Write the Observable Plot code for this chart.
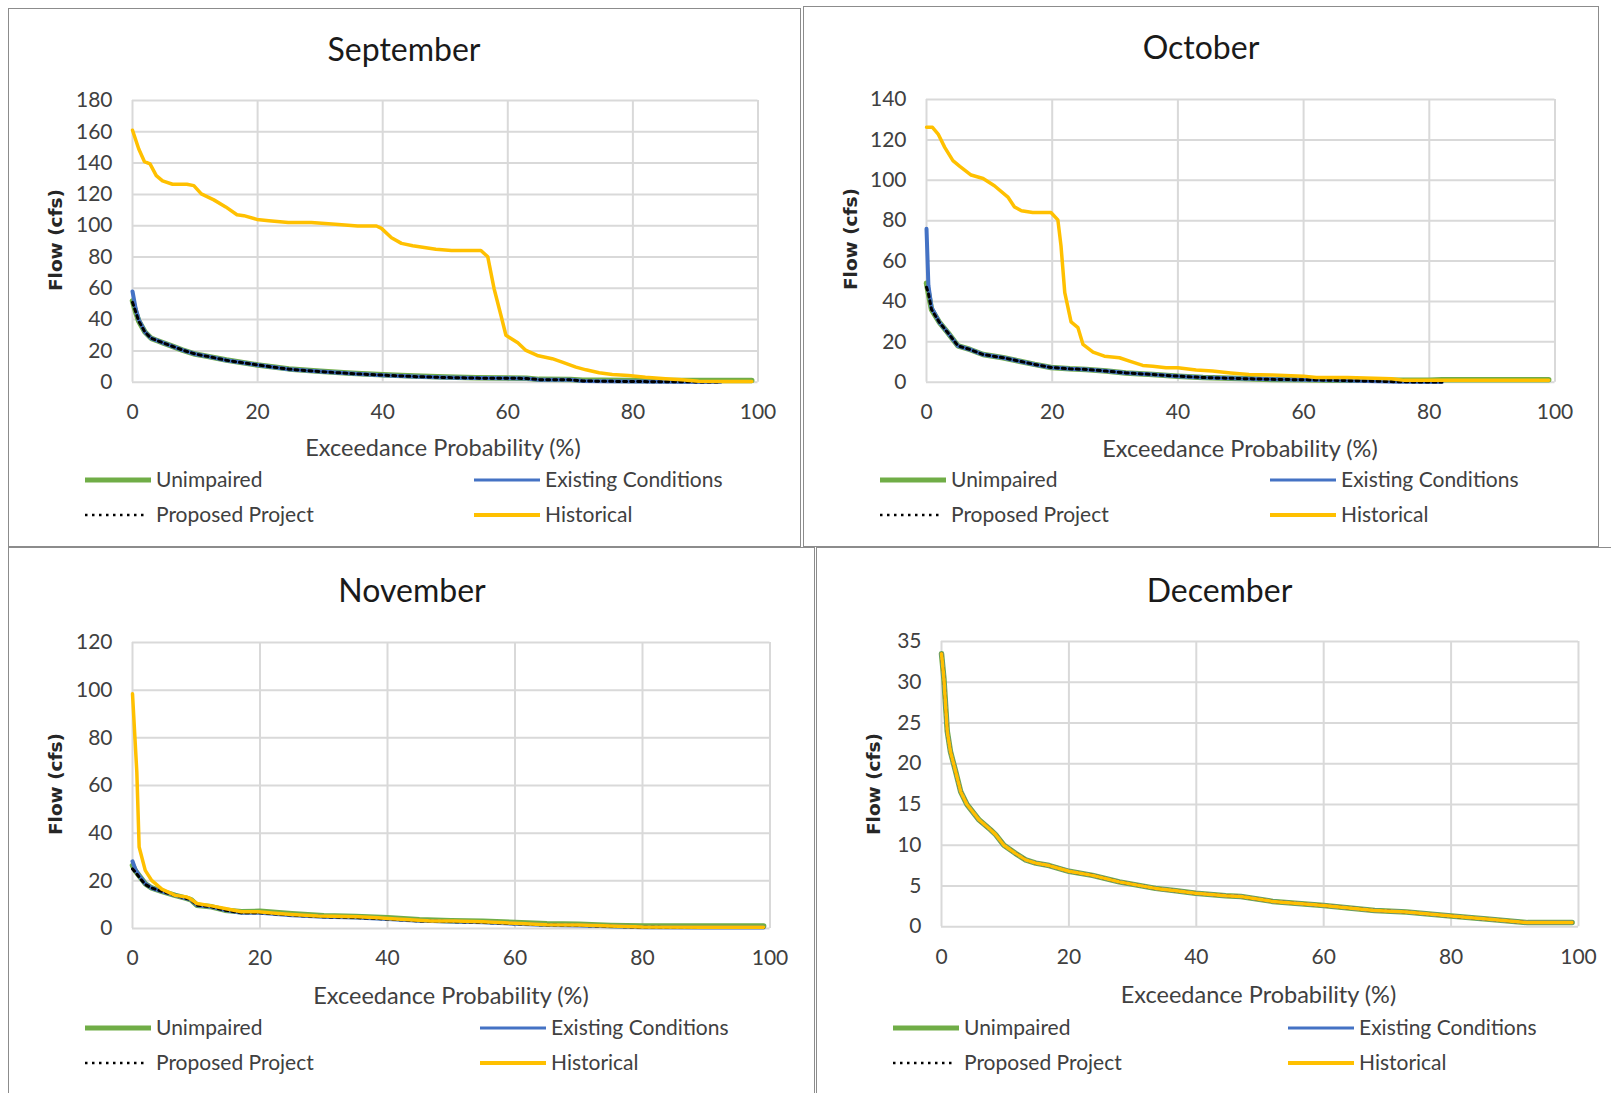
<!DOCTYPE html>
<html><head><meta charset="utf-8">
<script src="https://cdn.jsdelivr.net/npm/d3@7"></script>
<script src="https://cdn.jsdelivr.net/npm/@observablehq/plot@0.6"></script>
<style>
html,body{margin:0;padding:0;background:#fff;}
body{width:1611px;height:1093px;overflow:hidden;position:relative;font-family:Lato,"Open Sans",sans-serif;color:#404040;}
.panel{position:absolute;border:1.5px solid #8c8c8c;box-sizing:border-box;}
.abs{position:absolute;white-space:nowrap;line-height:1;}
.plotbox{position:absolute;}
</style></head><body>
<script>
// ---------- labels ----------
const monthTitles = ["September", "October", "November", "December"];
const legendLabels = ["Unimpaired", "Existing Conditions", "Proposed Project", "Historical"];
const xAxisTitle = "Exceedance Probability (%)";
const yAxisTitle = "Flow (cfs)";
const xTicks = [0, 20, 40, 60, 80, 100];
const sepYTicks = [0, 20, 40, 60, 80, 100, 120, 140, 160, 180];
const octYTicks = [0, 20, 40, 60, 80, 100, 120, 140];
const novYTicks = [0, 20, 40, 60, 80, 100, 120];
const decYTicks = [0, 5, 10, 15, 20, 25, 30, 35];

// ---------- September ----------
const sepHistX = [0, 1, 1.9, 2.8, 3.8, 4.8, 6.4, 8.7, 9.8, 11, 13, 14.9, 16.7, 17.8, 19.9, 21.8, 24.9, 28.6, 32.4, 36, 39, 39.8, 41.4, 43, 44.8, 48.5, 51, 55.7, 56.8, 57.8, 58.9, 59.7, 61.6, 62.9, 64.7, 67.1, 68.7, 70.9, 72.5, 74.6, 76.7, 79.3, 82, 85.2, 87.8, 90.5, 94.2, 99];
const sepHistorical = [161, 149, 141, 139.5, 132, 128.6, 126.5, 126.5, 125.6, 120.3, 116.5, 112, 107, 106.4, 104, 103.2, 102, 102, 101, 99.8, 99.8, 98.3, 92.3, 88.7, 87.2, 85, 84.2, 84.2, 80.1, 59.9, 42.8, 30, 25.2, 20.3, 17.1, 15, 12.8, 9.6, 7.9, 6, 4.9, 4.3, 3.2, 2.2, 1.5, 0.6, 0.5, 0.5];
const sepModelX = [0, 0.5, 1, 2, 3, 4, 5, 6, 8, 10, 12, 15, 20, 25, 30, 35, 40, 45, 50, 55, 60, 63, 65, 70, 72, 75, 80, 85, 90, 94, 99];
const sepUnimpaired = [52, 45, 39, 32, 28, 26.5, 25, 23.5, 20.5, 18, 16.5, 14.2, 11, 8.5, 7, 5.7, 4.8, 4, 3.3, 2.8, 2.6, 2.5, 1.8, 1.7, 1.3, 1.2, 1.1, 1.0, 1.0, 1.0, 1.0];
const sepExisting = [58, 47, 40, 32, 28, 26.5, 25, 23.5, 20.5, 18, 16.5, 14, 11, 8.3, 6.8, 5.5, 4.5, 3.6, 3, 2.6, 2.5, 2.4, 1.6, 1.5, 0.8, 0.6, 0.4, 0.3, 0.2, 0.1, null];
const sepProposed = [51, 45, 39, 32, 28, 26.5, 25, 23.5, 20.5, 18, 16.5, 14, 11, 8.3, 6.8, 5.5, 4.5, 3.6, 3, 2.6, 2.5, 2.4, 1.6, 1.5, 0.8, 0.6, 0.4, 0.3, 0.2, 0.1, null];

// ---------- October ----------
const octHistX = [0, 0.95, 1.85, 2.9, 4.2, 5.3, 7.1, 9, 10.8, 13, 14, 15.1, 16.9, 19.8, 20.9, 21.4, 22, 23, 24.1, 24.9, 26.5, 28.3, 30.7, 32.3, 34.4, 36, 38.1, 40, 42.9, 45.5, 48.4, 51.3, 55, 60, 62, 67, 74, 76, 80, 90, 99];
const octHistorical = [126.2, 126.2, 122.9, 116.3, 109.7, 106.9, 102.6, 100.9, 97.3, 91.5, 86.8, 84.9, 84, 84, 80.4, 67.5, 44.3, 29.9, 27, 18.7, 14.9, 12.9, 12.1, 10.4, 8.3, 7.9, 7.1, 7.1, 6, 5.5, 4.6, 3.8, 3.5, 3, 2.3, 2.3, 1.75, 0.9, 0.9, 0.9, 0.9];
const octModelX = [0, 0.3, 0.8, 2.1, 3.4, 5, 6.9, 9, 12.2, 14.8, 17.2, 19.8, 22.8, 25.4, 28.6, 31.7, 36, 40, 44, 50, 55, 60, 65, 70, 75, 80, 82, 85, 90, 95, 99];
const octUnimpaired = [49, 44, 36, 29.4, 24.5, 18, 16.2, 13.7, 12.1, 10.4, 8.8, 7.3, 6.6, 6.3, 5.5, 4.6, 3.8, 3, 2.3, 1.8, 1.3, 1.2, 1.0, 1.0, 1.0, 1.0, 1.2, 1.2, 1.2, 1.2, 1.2];
const octExisting = [76, 48, 37, 29.4, 24.5, 18, 16.2, 13.7, 12.1, 10.4, 8.8, 7.3, 6.6, 6.3, 5.5, 4.6, 3.8, 3, 2.3, 1.8, 1.4, 1.2, 0.9, 0.6, 0.2, 0.1, 0.1, null, null, null, null];
const octProposed = [47, 44, 36, 29.4, 24.5, 18, 16.2, 13.7, 12.1, 10.4, 8.8, 7.3, 6.6, 6.3, 5.5, 4.6, 3.8, 3, 2.3, 1.8, 1.4, 1.2, 0.9, 0.6, 0.2, 0.1, 0.1, null, null, null, null];

// ---------- November ----------
const novHistX = [0, 0.68, 1.04, 2, 3, 4.6, 6.7, 8.5, 9, 10.1, 12.4, 14.5, 17.1, 19.7, 22.9, 25, 29.1, 35.4, 38.5, 40.1, 46.9, 50.5, 55, 60, 65, 70, 75, 80, 90, 99];
const novHistorical = [98.5, 65.5, 34.2, 24.4, 20.2, 16.5, 13.9, 13.2, 12.6, 10.5, 9.5, 8.4, 7, 7, 6.3, 5.9, 5.2, 4.9, 4.5, 4.2, 3.1, 3.1, 2.8, 2.2, 1.6, 1.5, 1.0, 0.6, 0.5, 0.5];
const novModelX = [0, 0.5, 1.2, 2, 3, 4.6, 6.7, 8.5, 9.2, 10.1, 12.4, 14.5, 17.1, 20, 25, 30, 35, 40, 45, 50, 55, 60, 65, 70, 75, 80, 90, 99];
const novUnimpaired = [26.5, 24, 21.6, 18.8, 17, 15.6, 13.9, 12.6, 12, 9.8, 9.1, 7.7, 7.0, 7.2, 6.2, 5.4, 5.0, 4.5, 3.7, 3.3, 3.0, 2.5, 2.0, 1.8, 1.3, 1.0, 1.0, 1.0];
const novExisting = [28.2, 24.5, 21.6, 18.8, 17, 15.6, 13.9, 12.6, 12, 9.8, 9.1, 7.7, 6.6, 6.6, 5.6, 4.9, 4.6, 4.0, 3.2, 2.9, 2.6, 2.0, 1.5, 1.3, 0.9, 0.5, 0.4, 0.4];
const novProposed = [25, 23.5, 21, 18.5, 17, 15.6, 13.9, 12.6, 12, 9.8, 9.1, 7.7, 6.6, 6.6, 5.6, 4.9, 4.6, 4.0, 3.2, 2.9, 2.6, 2.0, 1.5, 1.3, 0.9, 0.5, 0.4, 0.4];

// ---------- December ----------
const decX = [0, 0.37, 0.9, 1.4, 2.2, 3, 4, 5.9, 7.7, 8.5, 9.8, 11.6, 13.2, 14.8, 16.9, 20, 23.7, 27.9, 33.6, 36.8, 39.9, 44.6, 47, 52, 60, 68, 73, 80, 86, 92, 99];
const decHistorical = [33.5, 30.5, 24, 21.5, 19.1, 16.6, 15, 13.1, 11.9, 11.3, 10, 9, 8.2, 7.8, 7.5, 6.8, 6.3, 5.5, 4.7, 4.4, 4.1, 3.8, 3.7, 3.1, 2.6, 2.0, 1.8, 1.3, 0.9, 0.5, 0.5];
const decUnimpaired = [33.5, 30.5, 24, 21.5, 19.1, 16.6, 15, 13.1, 11.9, 11.3, 10, 9, 8.2, 7.8, 7.5, 6.8, 6.3, 5.5, 4.7, 4.4, 4.1, 3.8, 3.7, 3.1, 2.6, 2.0, 1.8, 1.3, 0.9, 0.5, 0.5];
const decExisting = [33.5, 30.5, 24, 21.5, 19.1, 16.6, 15, 13.1, 11.9, 11.3, 10, 9, 8.2, 7.8, 7.5, 6.8, 6.3, 5.5, 4.7, 4.4, 4.1, 3.8, 3.7, 3.1, 2.6, 2.0, 1.8, 1.3, 0.9, 0.5, 0.5];
const decProposed = [33.5, 30.5, 24, 21.5, 19.1, 16.6, 15, 13.1, 11.9, 11.3, 10, 9, 8.2, 7.8, 7.5, 6.8, 6.3, 5.5, 4.7, 4.4, 4.1, 3.8, 3.7, 3.1, 2.6, 2.0, 1.8, 1.3, 0.9, 0.5, 0.5];

// ---------- styling ----------
const GREEN = "#70ad47", BLUE = "#4472c4", YELLOW = "#ffc000", BLACK = "#000000", GRID = "#d9d9d9";

// ---------- layout (page coordinates) ----------
const panels = [
  {title: monthTitles[0], box: [8, 8, 801, 547], plot: [131.7, 757.2, 100, 381.7], yTicks: sepYTicks,
   hx: sepHistX, hist: sepHistorical, mx: sepModelX, un: sepUnimpaired, ex: sepExisting, pr: sepProposed,
   titleC: [404, 49], xlabC: [443, 448], ylabC: [55.5, 240], leg: [85, 474, 478, 513]},
  {title: monthTitles[1], box: [803, 6, 1599, 547], plot: [926, 1554.5, 98.8, 381.5], yTicks: octYTicks,
   hx: octHistX, hist: octHistorical, mx: octModelX, un: octUnimpaired, ex: octExisting, pr: octProposed,
   titleC: [1201, 47], xlabC: [1240, 449], ylabC: [850.7, 239], leg: [880, 1270, 478, 513]},
  {title: monthTitles[2], box: [8, 547, 815, 1100], plot: [132, 769.5, 642, 928], yTicks: novYTicks,
   hx: novHistX, hist: novHistorical, mx: novModelX, un: novUnimpaired, ex: novExisting, pr: novProposed,
   titleC: [412, 590], xlabC: [451, 995.5], ylabC: [55.5, 784], leg: [85, 480, 1025.5, 1060.5]},
  {title: monthTitles[3], box: [816, 547, 1620, 1100], plot: [941, 1578, 641.3, 926.5], yTicks: decYTicks,
   hx: decX, hist: decHistorical, mx: decX, un: decUnimpaired, ex: decExisting, pr: decProposed,
   titleC: [1219.5, 590], xlabC: [1258.5, 994.5], ylabC: [874, 784], leg: [893, 1288, 1025.5, 1060.5]}
];

function addText(str, x, y, css, anchor) {
  const el = document.createElement("div");
  el.className = "abs";
  el.textContent = str;
  el.style.left = x + "px";
  el.style.top = y + "px";
  el.style.transform = anchor === "left" ? "translate(0,-50%)" : "translate(-50%,-50%)";
  Object.assign(el.style, css);
  document.body.appendChild(el);
  return el;
}

function addSwatch(x, y, w, stroke, sw, dash) {
  const ns = "http://www.w3.org/2000/svg";
  const svg = document.createElementNS(ns, "svg");
  svg.setAttribute("width", w);
  svg.setAttribute("height", 12);
  svg.style.position = "absolute";
  svg.style.left = x + "px";
  svg.style.top = (y - 6) + "px";
  const ln = document.createElementNS(ns, "line");
  ln.setAttribute("x1", 0); ln.setAttribute("x2", w);
  ln.setAttribute("y1", 6); ln.setAttribute("y2", 6);
  ln.setAttribute("stroke", stroke);
  ln.setAttribute("stroke-width", sw);
  if (dash) ln.setAttribute("stroke-dasharray", dash);
  svg.appendChild(ln);
  document.body.appendChild(svg);
}

const mk = (xs, ys) => xs.map((x, i) => ({x, y: ys[i]})).filter(d => d.y != null);

for (const p of panels) {
  const b = document.createElement("div");
  b.className = "panel";
  b.style.left = p.box[0] + "px"; b.style.top = p.box[1] + "px";
  b.style.width = (p.box[2] - p.box[0]) + "px"; b.style.height = (p.box[3] - p.box[1]) + "px";
  document.body.appendChild(b);

  const [x0, x1, yt, yb] = p.plot;
  const ml = 80, mr = 30, mt = 20, mb = 50;
  const ymax = p.yTicks[p.yTicks.length - 1];
  const chart = Plot.plot({
    width: x1 - x0 + ml + mr,
    height: yb - yt + mt + mb,
    marginLeft: ml, marginRight: mr, marginTop: mt, marginBottom: mb,
    x: {domain: [0, 100]},
    y: {domain: [0, ymax]},
    style: {fontFamily: "Lato, sans-serif", fontSize: "21px", color: "#404040", background: "transparent", overflow: "visible"},
    marks: [
      Plot.ruleX(xTicks, {stroke: GRID, strokeWidth: 2}),
      Plot.ruleY(p.yTicks, {stroke: GRID, strokeWidth: 2}),
      Plot.axisX({ticks: xTicks, tickSize: 0, tickPadding: 22, label: null}),
      Plot.axisY({ticks: p.yTicks, tickSize: 0, tickPadding: 20, label: null}),
      Plot.line(mk(p.mx, p.un), {x: "x", y: "y", stroke: GREEN, strokeWidth: 5.5, strokeLinejoin: "round"}),
      Plot.line(mk(p.mx, p.ex), {x: "x", y: "y", stroke: BLUE, strokeWidth: 4, strokeLinejoin: "round"}),
      Plot.line(mk(p.mx, p.pr), {x: "x", y: "y", stroke: BLACK, strokeWidth: 3, strokeDasharray: "3,4"}),
      Plot.line(mk(p.hx, p.hist), {x: "x", y: "y", stroke: YELLOW, strokeWidth: 3.5, strokeLinejoin: "round"})
    ]
  });
  const wrap = document.createElement("div");
  wrap.className = "plotbox";
  wrap.style.left = (x0 - ml) + "px";
  wrap.style.top = (yt - mt) + "px";
  wrap.appendChild(chart);
  document.body.appendChild(wrap);

  addText(p.title, p.titleC[0], p.titleC[1], {fontSize: "32px", color: "#1a1a1a"});
  addText(xAxisTitle, p.xlabC[0], p.xlabC[1], {fontSize: "23.5px", color: "#404040"});
  const yl = addText(yAxisTitle, p.ylabC[0], p.ylabC[1], {fontSize: "18.5px", fontFamily: "'DejaVu Sans', sans-serif", fontWeight: "bold", color: "#262626"});
  yl.style.transform = "translate(-50%,-50%) rotate(-90deg)";

  const [c1, c2, r1, r2] = p.leg;
  const sw = 66;
  addSwatch(c1, r1 + 2, sw, GREEN, 5);
  addText(legendLabels[0], c1 + sw + 5, r1, {fontSize: "21px"}, "left");
  addSwatch(c2, r1 + 2, sw, BLUE, 3);
  addText(legendLabels[1], c2 + sw + 5, r1, {fontSize: "21px"}, "left");
  addSwatch(c1, r2 + 2, sw - 4, BLACK, 2.5, "2.5,4.5");
  addText(legendLabels[2], c1 + sw + 5, r2, {fontSize: "21px"}, "left");
  addSwatch(c2, r2 + 2, sw, YELLOW, 4);
  addText(legendLabels[3], c2 + sw + 5, r2, {fontSize: "21px"}, "left");
}
</script>
</body></html>
